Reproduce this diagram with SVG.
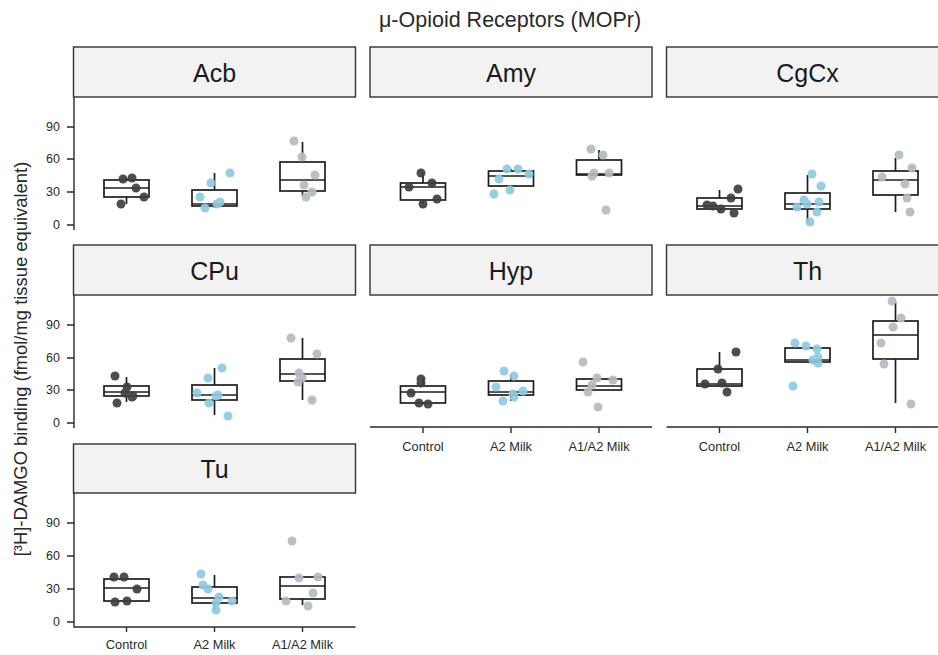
<svg xmlns="http://www.w3.org/2000/svg" width="938" height="655" viewBox="0 0 938 655">
<style>
text{font-family:"Liberation Sans",Arial,sans-serif;fill:#2a2a2a}
.strip{fill:#f2f2f2;stroke:#333;stroke-width:1.4}
.st{font-size:25px;text-anchor:middle;fill:#1a1a1a}
.box{fill:none;stroke:#1e1e1e;stroke-width:1.7}
.wh{stroke:#1e1e1e;stroke-width:1.7;fill:none}
.ax{stroke:#2a2a2a;stroke-width:1.4;fill:none}
.c{fill:#3f3f3f;opacity:.92}
.a{fill:#8fcae0;opacity:.92}
.m{fill:#b6bac2;opacity:.92}
.yt{font-size:12.5px;text-anchor:end}
.xt{font-size:12.8px;text-anchor:middle}
</style>
<rect width="938" height="655" fill="#fff"/>
<text x="510" y="27" font-size="21.5" text-anchor="middle" fill="#333">μ-Opioid Receptors (MOPr)</text>
<text transform="translate(27,359) rotate(-90)" font-size="18.4" text-anchor="middle" fill="#333">[³H]-DAMGO binding (fmol/mg tissue equivalent)</text>

<g id="axes">
<g class="ax">
<path d="M74 97V230M67 127H74M67 159H74M67 192H74M67 225H74"/>
<path d="M74 295V428M67 325H74M67 358H74M67 390H74M67 423H74"/>
<path d="M74 493V627H355.5M67 523H74M67 556H74M67 589H74M67 622H74M126.5 627V632M214.5 627V632M302.5 627V632"/>
<path d="M370 427H652M423 427V433M511 427V433M599 427V433"/>
<path d="M666.5 427H938M719.5 427V433M807.5 427V433M895.5 427V433"/>
</g>
<g class="yt">
<text x="60" y="131">90</text><text x="60" y="163">60</text><text x="60" y="196">30</text><text x="60" y="229">0</text>
<text x="60" y="329">90</text><text x="60" y="362">60</text><text x="60" y="394">30</text><text x="60" y="427">0</text>
<text x="60" y="527">90</text><text x="60" y="560">60</text><text x="60" y="593">30</text><text x="60" y="626">0</text>
</g>
<g class="xt">
<text x="126.5" y="649">Control</text><text x="214.5" y="649">A2 Milk</text><text x="302.5" y="649">A1/A2 Milk</text>
<text x="423" y="451">Control</text><text x="511" y="451">A2 Milk</text><text x="599" y="451">A1/A2 Milk</text>
<text x="719.5" y="451">Control</text><text x="807.5" y="451">A2 Milk</text><text x="895.5" y="451">A1/A2 Milk</text>
</g>
</g>

<g id="Acb">
<rect class="strip" x="73.5" y="47" width="282" height="50"/><text class="st" x="214.5" y="81.5">Acb</text>
<rect class="box" x="104" y="180" width="45" height="17"/><path class="wh" d="M104 188H149M126.5 178V180M126.5 197V204"/>
<rect class="box" x="192" y="190" width="45" height="16"/><path class="wh" d="M192 204H237M214.5 173V190M214.5 206V208"/>
<rect class="box" x="280" y="162" width="45" height="29"/><path class="wh" d="M280 180H325M302.5 142V162M302.5 191V196"/>
<g class="c"><circle cx="123" cy="179" r="4.5"/><circle cx="132" cy="178" r="4.5"/><circle cx="136" cy="188" r="4.5"/><circle cx="144" cy="197" r="4.5"/><circle cx="121" cy="204" r="4.5"/></g>
<g class="a"><circle cx="200" cy="197" r="4.5"/><circle cx="211" cy="183" r="4.5"/><circle cx="205" cy="208" r="4.5"/><circle cx="220" cy="202" r="4.5"/><circle cx="230" cy="173" r="4.5"/><circle cx="217" cy="204" r="4.5"/></g>
<g class="m"><circle cx="294" cy="141" r="4.5"/><circle cx="302" cy="157" r="4.5"/><circle cx="315" cy="175" r="4.5"/><circle cx="304" cy="185" r="4.5"/><circle cx="312" cy="192" r="4.5"/><circle cx="306" cy="197" r="4.5"/></g>
</g>

<g id="Amy">
<rect class="strip" x="370" y="47" width="282" height="50"/><text class="st" x="511" y="81.5">Amy</text>
<rect class="box" x="400.5" y="183" width="45" height="17"/><path class="wh" d="M400.5 187H445.5M423 173V183M423 200V204"/>
<rect class="box" x="488.5" y="171" width="45" height="15"/><path class="wh" d="M488.5 176H533.5M511 169V171M511 186V190"/>
<rect class="box" x="576.5" y="160" width="45" height="15"/><path class="wh" d="M576.5 174H621.5M599 150V160"/>
<g class="c"><circle cx="421" cy="173" r="4.5"/><circle cx="409" cy="187" r="4.5"/><circle cx="432" cy="183" r="4.5"/><circle cx="437" cy="199" r="4.5"/><circle cx="423" cy="204" r="4.5"/></g>
<g class="a"><circle cx="507" cy="169" r="4.5"/><circle cx="518" cy="169" r="4.5"/><circle cx="529" cy="174" r="4.5"/><circle cx="499" cy="179" r="4.5"/><circle cx="494" cy="194" r="4.5"/><circle cx="510" cy="190" r="4.5"/></g>
<g class="m"><circle cx="591" cy="149" r="4.5"/><circle cx="603" cy="155" r="4.5"/><circle cx="594" cy="173" r="4.5"/><circle cx="609" cy="173" r="4.5"/><circle cx="592" cy="176" r="4.5"/><circle cx="606" cy="210" r="4.5"/></g>
</g>

<g id="CgCx">
<rect class="strip" x="666.5" y="47" width="282" height="50"/><text class="st" x="807.5" y="81.5">CgCx</text>
<rect class="box" x="697" y="198" width="45" height="11"/><path class="wh" d="M697 206H742M719.5 190V198M719.5 209V213"/>
<rect class="box" x="785" y="193" width="45" height="16"/><path class="wh" d="M785 204H830M807.5 175V193M807.5 209V223"/>
<rect class="box" x="873" y="171" width="45" height="24"/><path class="wh" d="M873 180H918M895.5 158V171M895.5 195V212"/>
<g class="c"><circle cx="707" cy="205" r="4.5"/><circle cx="721" cy="209" r="4.5"/><circle cx="731" cy="198" r="4.5"/><circle cx="738" cy="189" r="4.5"/><circle cx="734" cy="213" r="4.5"/><circle cx="713" cy="206" r="4.5"/></g>
<g class="a"><circle cx="812" cy="174" r="4.5"/><circle cx="821" cy="186" r="4.5"/><circle cx="804" cy="200" r="4.5"/><circle cx="819" cy="202" r="4.5"/><circle cx="797" cy="207" r="4.5"/><circle cx="817" cy="212" r="4.5"/><circle cx="810" cy="222" r="4.5"/><circle cx="807" cy="204" r="4.5"/></g>
<g class="m"><circle cx="899" cy="155" r="4.5"/><circle cx="912" cy="168" r="4.5"/><circle cx="882" cy="177" r="4.5"/><circle cx="905" cy="184" r="4.5"/><circle cx="907" cy="198" r="4.5"/><circle cx="910" cy="212" r="4.5"/></g>
</g>

<g id="CPu">
<rect class="strip" x="73.5" y="245" width="282" height="50"/><text class="st" x="214.5" y="280">CPu</text>
<rect class="box" x="104" y="386" width="45" height="10"/><path class="wh" d="M104 392H149M126.5 377V386M126.5 396V402"/>
<rect class="box" x="192" y="385" width="45" height="15"/><path class="wh" d="M192 395H237M214.5 368V385M214.5 400V415"/>
<rect class="box" x="280" y="359" width="45" height="22"/><path class="wh" d="M280 374H325M302.5 338V359M302.5 381V400"/>
<g class="c"><circle cx="115" cy="376" r="4.5"/><circle cx="127" cy="387" r="4.5"/><circle cx="125" cy="393" r="4.5"/><circle cx="133" cy="396" r="4.5"/><circle cx="117" cy="403" r="4.5"/><circle cx="132" cy="397" r="4.5"/></g>
<g class="a"><circle cx="222" cy="368" r="4.5"/><circle cx="208" cy="378" r="4.5"/><circle cx="197" cy="393" r="4.5"/><circle cx="216" cy="396" r="4.5"/><circle cx="209" cy="403" r="4.5"/><circle cx="228" cy="416" r="4.5"/><circle cx="218" cy="395" r="4.5"/></g>
<g class="m"><circle cx="291" cy="338" r="4.5"/><circle cx="317" cy="354" r="4.5"/><circle cx="299" cy="373" r="4.5"/><circle cx="298" cy="382" r="4.5"/><circle cx="302" cy="378" r="4.5"/><circle cx="312" cy="400" r="4.5"/></g>
</g>

<g id="Hyp">
<rect class="strip" x="370" y="245" width="282" height="50"/><text class="st" x="511" y="280">Hyp</text>
<rect class="box" x="400.5" y="386" width="45" height="17"/><path class="wh" d="M400.5 392H445.5M423 378V386M423 403V404"/>
<rect class="box" x="488.5" y="381" width="45" height="14"/><path class="wh" d="M488.5 392H533.5M511 375V381M511 395V401"/>
<rect class="box" x="576.5" y="379" width="45" height="11"/><path class="wh" d="M576.5 386H621.5"/>
<g class="c"><circle cx="421" cy="379" r="4.5"/><circle cx="421" cy="383" r="4.5"/><circle cx="411" cy="393" r="4.5"/><circle cx="419" cy="403" r="4.5"/><circle cx="428" cy="404" r="4.5"/></g>
<g class="a"><circle cx="504" cy="371" r="4.5"/><circle cx="514" cy="376" r="4.5"/><circle cx="496" cy="387" r="4.5"/><circle cx="523" cy="391" r="4.5"/><circle cx="513" cy="394" r="4.5"/><circle cx="503" cy="401" r="4.5"/><circle cx="514" cy="397" r="4.5"/></g>
<g class="m"><circle cx="583" cy="362" r="4.5"/><circle cx="597" cy="378" r="4.5"/><circle cx="613" cy="380" r="4.5"/><circle cx="592" cy="385" r="4.5"/><circle cx="588" cy="392" r="4.5"/><circle cx="598" cy="407" r="4.5"/></g>
</g>

<g id="Th">
<rect class="strip" x="666.5" y="245" width="282" height="50"/><text class="st" x="807.5" y="280">Th</text>
<rect class="box" x="697" y="369" width="45" height="17"/><path class="wh" d="M697 384H742M719.5 352V369"/>
<rect class="box" x="785" y="348" width="45" height="14"/><path class="wh" d="M785 360H830"/>
<rect class="box" x="873" y="321" width="45" height="38"/><path class="wh" d="M873 335H918M895.5 302V321M895.5 359V403"/>
<g class="c"><circle cx="736" cy="352" r="4.5"/><circle cx="718" cy="369" r="4.5"/><circle cx="705" cy="384" r="4.5"/><circle cx="722" cy="383" r="4.5"/><circle cx="727" cy="392" r="4.5"/></g>
<g class="a"><circle cx="795" cy="343" r="4.5"/><circle cx="806" cy="346" r="4.5"/><circle cx="817" cy="349" r="4.5"/><circle cx="818" cy="357" r="4.5"/><circle cx="818" cy="363" r="4.5"/><circle cx="793" cy="386" r="4.5"/><circle cx="813" cy="360" r="4.5"/></g>
<g class="m"><circle cx="892" cy="301" r="4.5"/><circle cx="901" cy="318" r="4.5"/><circle cx="893" cy="327" r="4.5"/><circle cx="881" cy="343" r="4.5"/><circle cx="884" cy="364" r="4.5"/><circle cx="911" cy="404" r="4.5"/></g>
</g>

<g id="Tu">
<rect class="strip" x="73.5" y="444" width="282" height="49"/><text class="st" x="214.5" y="478">Tu</text>
<rect class="box" x="104" y="579" width="45" height="22"/><path class="wh" d="M104 588H149"/>
<rect class="box" x="192" y="587" width="45" height="16"/><path class="wh" d="M192 598H237M214.5 575V587M214.5 603V610"/>
<rect class="box" x="280" y="577" width="45" height="22"/><path class="wh" d="M280 586H325M302.5 599V605"/>
<g class="c"><circle cx="114" cy="577" r="4.5"/><circle cx="124" cy="577" r="4.5"/><circle cx="137" cy="589" r="4.5"/><circle cx="115" cy="602" r="4.5"/><circle cx="127" cy="601" r="4.5"/></g>
<g class="a"><circle cx="201" cy="574" r="4.5"/><circle cx="203" cy="585" r="4.5"/><circle cx="208" cy="589" r="4.5"/><circle cx="219" cy="597" r="4.5"/><circle cx="232" cy="601" r="4.5"/><circle cx="216" cy="603" r="4.5"/><circle cx="216" cy="610" r="4.5"/></g>
<g class="m"><circle cx="292" cy="541" r="4.5"/><circle cx="299" cy="578" r="4.5"/><circle cx="318" cy="577" r="4.5"/><circle cx="286" cy="601" r="4.5"/><circle cx="313" cy="593" r="4.5"/><circle cx="308" cy="606" r="4.5"/></g>
</g>
</svg>
